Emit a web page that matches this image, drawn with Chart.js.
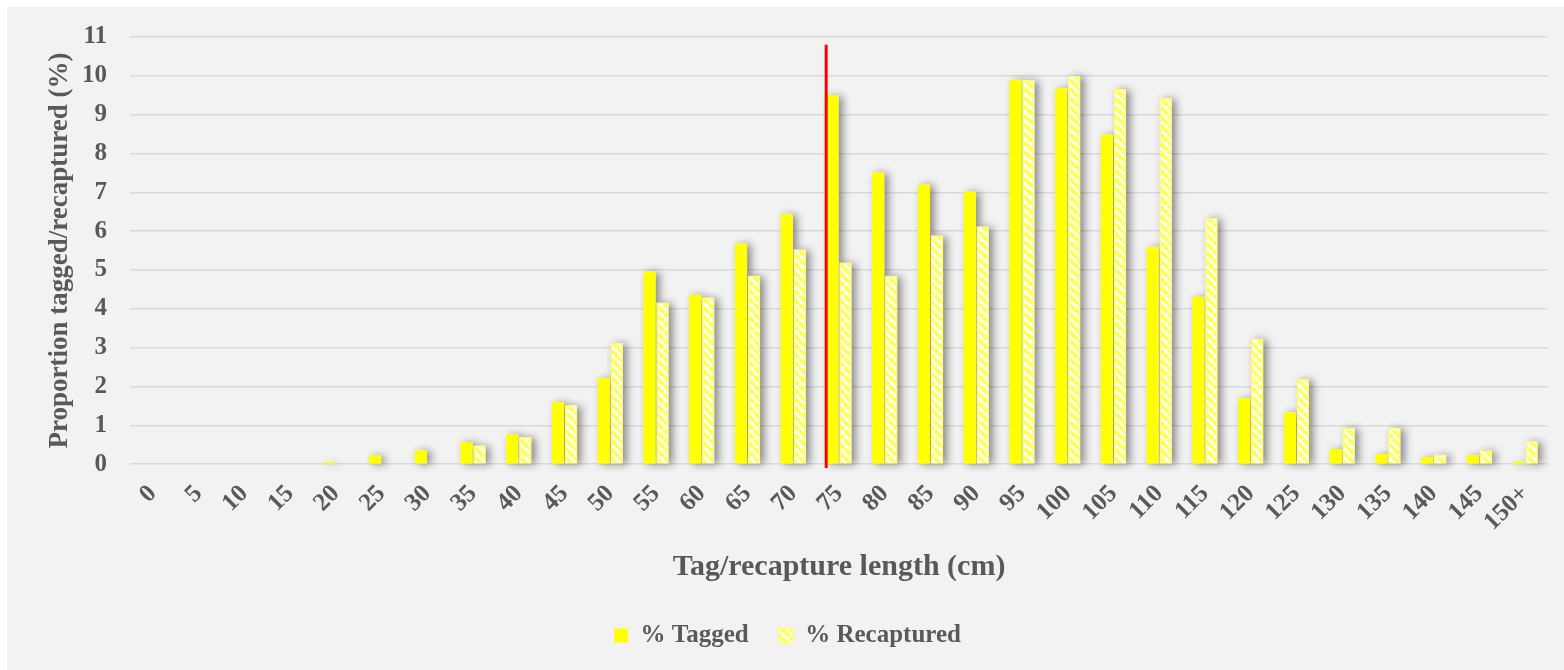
<!DOCTYPE html>
<html>
<head>
<meta charset="utf-8">
<script src="https://cdn.jsdelivr.net/npm/chart.js@4/dist/chart.umd.min.js"></script>
<style>
  html, body { margin: 0; padding: 0; background: #ffffff; }
  #wrap { position: absolute; left: 7px; top: 7px; width: 1557px; height: 663px; background: #f2f2f2; }
</style>
</head>
<body>
<div id="wrap"><canvas id="myChart"></canvas></div>
<script>
// length classes (cm)
const lengthClasses = ['0', '5', '10', '15', '20', '25', '30', '35', '40', '45', '50', '55', '60', '65', '70',
  '75', '80', '85', '90', '95', '100', '105', '110', '115', '120', '125', '130', '135', '140', '145', '150+'];

// percentage of fish in each class
const taggedPct = [0, 0, 0, 0, 0.05, 0.23, 0.36, 0.57, 0.77, 1.6, 2.22, 4.96, 4.36, 5.68, 6.45,
  9.5, 7.51, 7.2, 7.02, 9.9, 9.68, 8.49, 5.6, 4.31, 1.7, 1.34, 0.39, 0.26, 0.18, 0.23, 0.07];
const recapturedPct = [0, 0, 0, 0, 0, 0.02, 0, 0.48, 0.7, 1.52, 3.12, 4.16, 4.29, 4.85, 5.53,
  5.19, 4.85, 5.89, 6.12, 9.89, 10.0, 9.66, 9.43, 6.33, 3.23, 2.19, 0.93, 0.93, 0.25, 0.35, 0.59];

const yTicks = [0, 1, 2, 3, 4, 5, 6, 7, 8, 9, 10, 11];

// red marker line (category index units, y range in %)
const markerAt = 14.72;
const markerFrom = -0.1;
const markerTo = 10.8;

const fontFamily = '"Liberation Serif", "DejaVu Serif", serif';
const textColor = '#595959';

// diagonal white/yellow hatch for recaptured bars
function makeHatch() {
  const size = 9;
  const c = document.createElement('canvas');
  c.width = size; c.height = size;
  const g = c.getContext('2d');
  g.fillStyle = '#ffffff';
  g.fillRect(0, 0, size, size);
  g.strokeStyle = '#ffff55';
  g.lineWidth = 4;
  g.beginPath();
  for (let k = -1; k <= 1; k++) {
    g.moveTo(k * size, 0);
    g.lineTo(k * size + size, size);
  }
  g.stroke();
  return g.createPattern(c, 'repeat');
}

// soft drop shadow behind every bar, painted before the bars themselves
const barShadow = {
  id: 'barShadow',
  beforeDatasetsDraw(chart) {
    const ctx = chart.ctx;
    ctx.save();
    ctx.shadowColor = 'rgba(0,0,0,0.45)';
    ctx.shadowBlur = 8;
    ctx.shadowOffsetX = 4;
    ctx.shadowOffsetY = 1;
    ctx.fillStyle = '#f2f2f2';
    chart.data.datasets.forEach((ds, i) => {
      chart.getDatasetMeta(i).data.forEach(bar => {
        const h = bar.base - bar.y;
        if (h < 0.5) return;
        ctx.fillRect(bar.x - bar.width / 2, bar.y, bar.width, h);
      });
    });
    ctx.restore();
  }
};

const markerLine = {
  id: 'markerLine',
  afterDatasetsDraw(chart) {
    const ctx = chart.ctx;
    const x = chart.scales.x.getPixelForValue(markerAt);
    const y1 = chart.scales.y.getPixelForValue(markerTo);
    const y2 = chart.scales.y.getPixelForValue(markerFrom);
    ctx.save();
    ctx.strokeStyle = '#ff0000';
    ctx.lineWidth = 3;
    ctx.beginPath();
    ctx.moveTo(x, y1);
    ctx.lineTo(x, y2);
    ctx.stroke();
    ctx.restore();
  }
};

const data = {
  labels: lengthClasses,
  datasets: [{
    label: '% Tagged',
    data: taggedPct,
    backgroundColor: '#ffff00',
    borderWidth: 0
  }, {
    label: '% Recaptured',
    data: recapturedPct,
    backgroundColor: makeHatch(),
    borderColor: '#ffff66',
    borderWidth: 1.5
  }]
};

const config = {
  type: 'bar',
  data,
  options: {
    responsive: true,
    maintainAspectRatio: false,
    animation: false,
    datasets: {
      bar: { categoryPercentage: 0.57, barPercentage: 0.93 }
    },
    layout: { padding: { left: 20, right: 16, top: 30, bottom: 12 } },
    plugins: {
      tooltip: { enabled: false },
      legend: {
        position: 'bottom',
        labels: {
          color: textColor,
          font: { family: fontFamily, size: 25, weight: 'bold' },
          boxWidth: 14,
          boxHeight: 14,
          padding: 30
        }
      }
    },
    scales: {
      x: {
        afterFit(axis) {
          axis.paddingLeft = 0;
          axis.paddingRight = 0;
        },
        grid: { display: false },
        border: { display: false },
        ticks: {
          color: textColor,
          font: { family: fontFamily, size: 25, weight: 'bold' },
          autoSkip: false,
          maxRotation: 45,
          minRotation: 45,
          padding: 7
        },
        title: {
          display: true,
          text: 'Tag/recapture length (cm)',
          color: textColor,
          font: { family: fontFamily, size: 30, weight: 'bold' },
          padding: { top: 5, bottom: 8 }
        }
      },
      y: {
        min: 0,
        max: 11,
        afterBuildTicks(axis) {
          axis.ticks = yTicks.map(v => ({ value: v }));
        },
        afterFit(axis) {
          axis.width = 103;
          axis.paddingTop = 0;
          axis.paddingBottom = 0;
        },
        grid: { color: '#d9d9d9', lineWidth: 1.5, drawTicks: false },
        border: { display: false },
        ticks: {
          color: textColor,
          font: { family: fontFamily, size: 25, weight: 'bold' },
          padding: 23
        },
        title: {
          display: true,
          text: 'Proportion tagged/recaptured (%)',
          color: textColor,
          font: { family: fontFamily, size: 27, weight: 'bold' },
          padding: { top: 17, bottom: 0 }
        }
      }
    }
  },
  plugins: [barShadow, markerLine]
};

const myChart = new Chart(document.getElementById('myChart'), config);
</script>
</body>
</html>
